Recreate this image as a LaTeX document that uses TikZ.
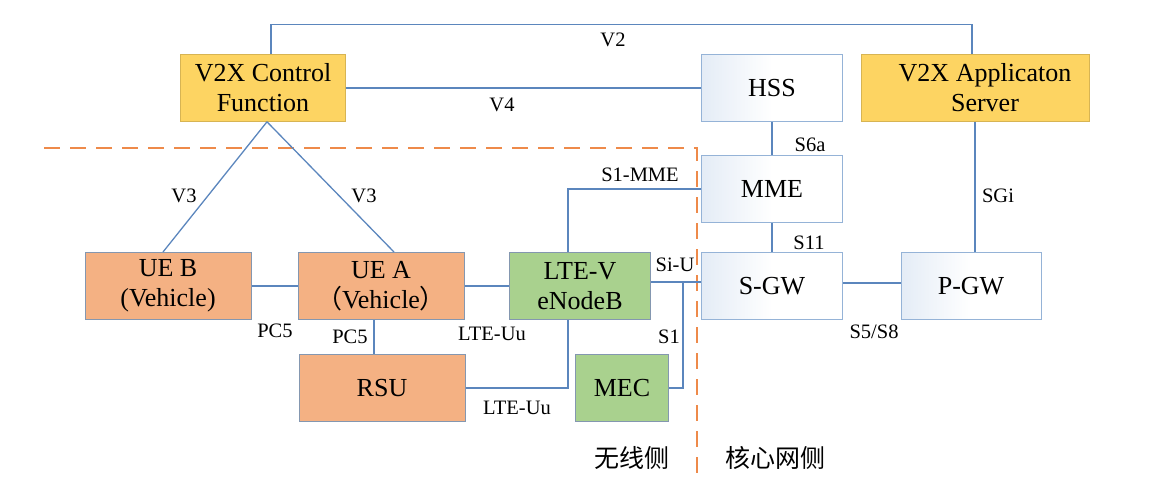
\documentclass[tikz,border=0pt]{standalone}
\usepackage{fontspec}
\setmainfont{Liberation Serif}
\newfontfamily\cjk{Noto Sans CJK SC}
\usepackage{xcolor}
\usepackage{tikz}

\definecolor{linkblue}{HTML}{5B86BD}
\definecolor{boxgray}{HTML}{8497B0}
\definecolor{wedge}{HTML}{95B3D7}
\definecolor{wblue}{HTML}{E4ECF6}
\definecolor{vyellow}{HTML}{FDD462}
\definecolor{vorange}{HTML}{F4B183}
\definecolor{vgreen}{HTML}{A9D18E}
\definecolor{sideorange}{HTML}{EE8A4A}

\begin{document}
\begin{tikzpicture}[x=1pt,y=-1pt,
		box/.style={minimum height=67pt,inner sep=0pt,align=center,font=\fontsize{26}{30}\selectfont},
		ybox/.style={box,fill=vyellow,draw=vyellow!85!black,line width=0.6pt},
		obox/.style={box,fill=vorange,draw=boxgray,line width=1pt},
		gbox/.style={box,fill=vgreen,draw=boxgray,line width=1pt},
		wbox/.style={box,left color=wblue,right color=white,middle color=white,draw=wedge,line width=1pt},
		link/.style={linkblue,line width=1.3pt},
		lab/.style={inner sep=0pt,font=\fontsize{20.5}{24}\selectfont},
		side/.style={sideorange,line width=2.2pt,dash pattern=on 16pt off 10pt}]
		\useasboundingbox (0,0) rectangle (1151,480);
		
		% boundary between radio and core side
		\draw[side] (44,148) -- (697,148) -- (697,474);
		
		\node[ybox,minimum width=165pt] (cf) at (263,88) {V2X Control\\Function};
		\node[wbox,minimum width=141pt] (hss) at (772,88) {HSS};
		\node[ybox,minimum width=228pt] (as) at (975,88) {\hspace*{20pt}V2X Applicaton\\\hspace*{20pt}Server};
		\node[wbox,minimum width=141pt] (mme) at (772,189) {MME};
		\node[obox,minimum width=166pt] (ueb) at (168,286) {UE B\\(Vehicle)};
		\node[obox,minimum width=166pt] (uea) at (381,286) {UE A\\{\cjk（}Vehicle{\cjk）}};
		\node[gbox,minimum width=141pt] (enb) at (580,286) {LTE-V\\eNodeB};
		\node[wbox,minimum width=141pt] (sgw) at (772,286) {S-GW};
		\node[wbox,minimum width=140pt] (pgw) at (971,286) {P-GW};
		\node[obox,minimum width=166pt] (rsu) at (382,388) {RSU};
		\node[gbox,minimum width=93pt] (mec) at (622,388) {MEC};
		
		\coordinate (siu) at (683,282);
		
		\draw[link] ([xshift=8]cf.north) -- ++(0,-30) -| ([xshift=-3]as.north);
		\draw[link] (cf.east) -- (hss.west);
		\draw[link] (hss.south) -- (mme.north);
		\draw[link] (mme.west) -| ([xshift=-12]enb.north);
		\draw[link] (as.south) -- (as.south |- pgw.north);
		\draw[link] ([xshift=4]cf.south) -- ([xshift=-5]ueb.north);
		\draw[link] ([xshift=4]cf.south) -- ([xshift=13]uea.north);
		\draw[link] (ueb.east) -- (uea.west);
		\draw[link] ([xshift=-7]uea.south) -- ([xshift=-8]rsu.north);
		\draw[link] (uea.east) -- (enb.west);
		\draw[link] (rsu.east) -| ([xshift=-12]enb.south);
		\draw[link] ([yshift=4]enb.east) -- ([yshift=4]sgw.west);
		\draw[link] (mec.east) -| (siu);
		\draw[link] (mme.south) -- (sgw.north);
		\draw[link] ([yshift=3]sgw.east) -- ([yshift=3]pgw.west);
		
		\node[lab] at (613,40) {V2};
		\node[lab] at (502,105) {V4};
		\node[lab] at (810,145) {S6a};
		\node[lab] at (640,175) {S1-MME};
		\node[lab] at (998,196) {SGi};
		\node[lab] at (184,196) {V3};
		\node[lab] at (364,196) {V3};
		\node[lab] at (809,243) {S11};
		\node[lab] at (675,265) {Si-U};
		\node[lab] at (275,331) {PC5};
		\node[lab] at (350,337) {PC5};
		\node[lab] at (492,334) {LTE-Uu};
		\node[lab] at (669,337) {S1};
		\node[lab] at (874,332) {S5/S8};
		\node[lab] at (517,408) {LTE-Uu};
		
		\node[font=\cjk\fontsize{25}{28}\selectfont,inner sep=0pt] at (632,458) {无线侧};
		\node[font=\cjk\fontsize{25}{28}\selectfont,inner sep=0pt] at (775,458) {核心网侧};
	\end{tikzpicture}
\end{document}
